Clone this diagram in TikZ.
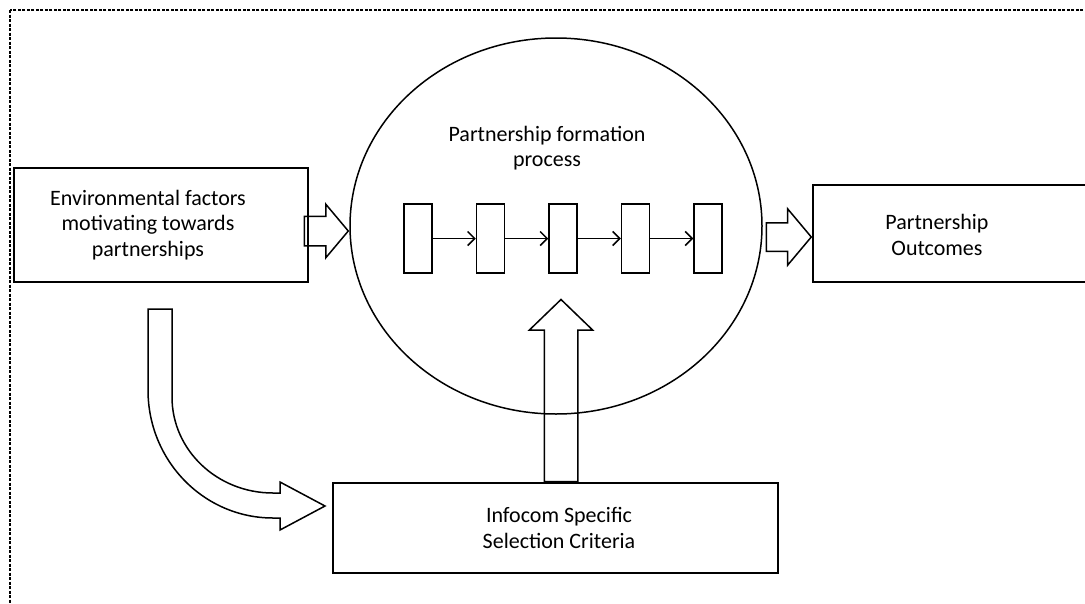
\documentclass[tikz,border=0pt]{standalone}
\usepackage{fontspec}
\setmainfont{Carlito}
\usetikzlibrary{positioning,shapes.geometric,shapes.arrows,arrows.meta}

\begin{document}
\begin{tikzpicture}[x=1pt,y=-1pt,line width=1.5pt,
     box/.style={draw,rectangle,inner sep=0pt},
     txt/.style={align=center,font=\fontsize{22}{25.5}\selectfont},
     stepbox/.style={draw,rectangle,minimum width=28pt,minimum height=69pt,inner sep=0pt},
     fatarrow/.style={draw,single arrow,inner xsep=0pt,minimum width=0pt,
       single arrow head indent=0pt}]

      \clip (0,0) rectangle (1085,603);
      \draw[line width=1.2pt,dash pattern=on 3pt off 1.5pt] (10,10) rectangle (1100,640);

      % boxes and the process ellipse
      \node[box,minimum width=294pt,minimum height=114pt] (env) at (161,225) {};
      \node[txt] (envtext) at (148,225) {Environmental factors\\motivating towards\\partnerships};
      \node[draw,ellipse,minimum width=412pt,minimum height=376pt,inner sep=0pt] (proc) at (556,226) {};
      \node[txt] (proctext) at (547,148) {Partnership formation\\process};
      \node[box,minimum width=282pt,minimum height=97pt] (out) at (954,233.5) {};
      \node[txt] (outtext) at (937,235) {Partnership\\Outcomes};
      \node[box,minimum width=445pt,minimum height=90pt] (crit) at (555.5,528) {};
      \node[txt] (crittext) at (559,528) {Infocom Specific\\Selection Criteria};

      % steps inside the ellipse
      \node[stepbox] (s1) at (418,238.5) {};
      \foreach \p/\n in {1/2, 2/3, 3/4, 4/5} {
       \node[stepbox] (s\n) [right=43pt of s\p] {};
       \draw[-{Straight Barb[length=7pt,width=14pt]}] (s\p) -- (s\n);}

      % block arrows
      \node[fatarrow,inner ysep=14pt,single arrow head extend=12pt,
        single arrow tip angle=100,minimum height=44pt,anchor=tip] (a1) at (proc.west |- 0,231) {};
      \node[fatarrow,inner ysep=13.5pt,single arrow head extend=14pt,
        single arrow tip angle=100,minimum height=45pt,anchor=tip] (a2) at (out.west |- 0,237) {};
      \node[fatarrow,rotate=90,inner ysep=16pt,single arrow head extend=15pt,
        single arrow tip angle=92,minimum height=182pt,anchor=tail] (a3) at (crit.north -| 561,0) {};

      % curved arrow
      \draw (148,309) -- (172,309) -- (172,397)
        .. controls (172,450) and (217,493) .. (273,493) -- (280,493) -- (280,482)
        -- (325,506) -- (280,530) -- (280,518) -- (273,518)
        .. controls (204,518) and (148,461) .. (148,390) -- cycle;
    \end{tikzpicture}
\end{document}
